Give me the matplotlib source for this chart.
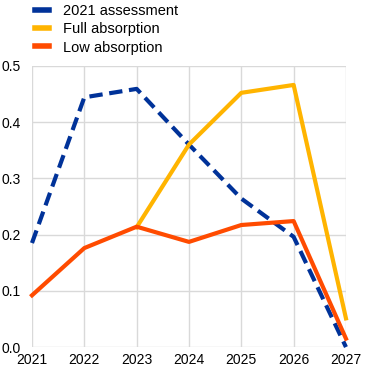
import matplotlib

matplotlib.use("Agg")
import matplotlib.pyplot as plt
from matplotlib.lines import Line2D

plt.rcParams.update({
    "font.family": ["Liberation Sans", "DejaVu Sans"],
    "font.size": 10,
})

years = [2021, 2022, 2023, 2024, 2025, 2026, 2027]
assessment_2021 = [0.185, 0.444, 0.459, 0.360, 0.264, 0.196, 0.0]
full_years = [2023, 2024, 2025, 2026, 2027]
full_absorption = [0.213, 0.360, 0.452, 0.466, 0.051]
low_absorption = [0.092, 0.176, 0.214, 0.187, 0.217, 0.224, 0.015]

BLUE = "#003299"
YELLOW = "#FFB400"
ORANGE = "#FF4B00"

fig = plt.figure(figsize=(3.72, 3.74), dpi=100)
ax = fig.add_axes([0.086, 0.072, 0.844, 0.752])

ax.plot(years, assessment_2021, color=BLUE, lw=3, ls=(0, (3.2, 1.6)), zorder=3, clip_on=False)
ax.plot(full_years, full_absorption, color=YELLOW, lw=3, zorder=4, clip_on=False)
ax.plot(years, low_absorption, color=ORANGE, lw=3, zorder=5, clip_on=False)

ax.set_xlim(2021, 2027)
ax.set_ylim(0, 0.5)
ax.set_xticks(years)
ax.set_yticks([0.0, 0.1, 0.2, 0.3, 0.4, 0.5])
ax.set_yticklabels(["0.0", "0.1", "0.2", "0.3", "0.4", "0.5"])
ax.grid(True, color="#d9d9d9", lw=1)
ax.set_axisbelow(True)
for s in ax.spines.values():
    s.set_visible(False)
ax.tick_params(length=0, labelsize=10, colors="#000000")
ax.tick_params(axis="y", pad=8)
ax.tick_params(axis="x", pad=4)

handles = [
    Line2D([], [], color=BLUE, lw=4),
    Line2D([], [], color=YELLOW, lw=4),
    Line2D([], [], color=ORANGE, lw=4),
]
fig.legend(handles, ["2021 assessment", "Full absorption", "Low absorption"],
           loc="upper left", bbox_to_anchor=(0.06, 1.025), frameon=False,
           handlelength=0.9, handletextpad=1.0, labelspacing=0.3, fontsize=10.5)

fig.savefig("out.png", dpi=100)
